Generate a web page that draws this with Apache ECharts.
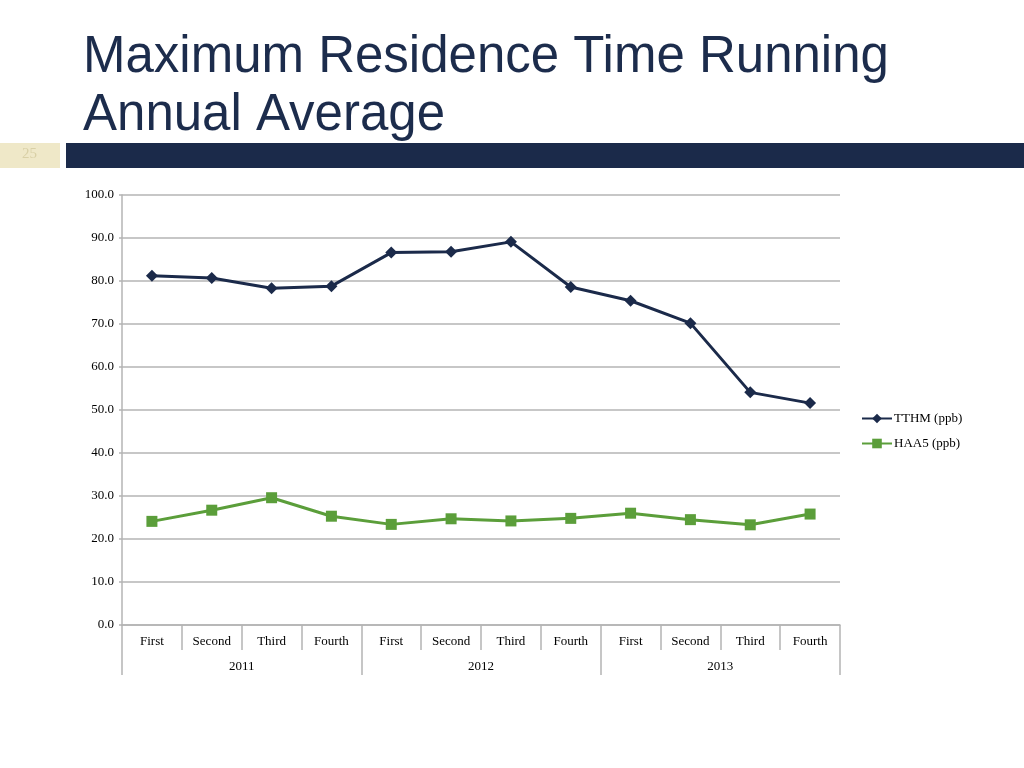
<!DOCTYPE html>
<html>
<head>
<meta charset="utf-8">
<title>Maximum Residence Time Running Annual Average</title>
<script src="https://cdn.jsdelivr.net/npm/echarts@6.0.0/dist/echarts.min.js"></script>
<style>
  html, body { margin: 0; padding: 0; background: #fff; }
  #main { width: 1024px; height: 768px; }
</style>
</head>
<body>
<div id="main"></div>
<script>
// chart data
var quarters = ['First', 'Second', 'Third', 'Fourth', 'First', 'Second', 'Third', 'Fourth', 'First', 'Second', 'Third', 'Fourth'];
var years = ['2011', '2012', '2013'];
var tthm = [81.2, 80.7, 78.3, 78.8, 86.6, 86.8, 89.1, 78.6, 75.4, 70.2, 54.1, 51.6];
var haa5 = [24.1, 26.7, 29.6, 25.3, 23.4, 24.7, 24.2, 24.8, 26.0, 24.5, 23.3, 25.8];
var seriesNames = ['TTHM (ppb)', 'HAA5 (ppb)'];

var serif = '"Liberation Serif", "Times New Roman", serif';
var navy = '#1b2a4a';
var green = '#5b9e3a';
var gridGray = '#b4b4b4';

var chart = echarts.init(document.getElementById('main'), null, { renderer: 'canvas' });

var option = {
  backgroundColor: '#fff',
  animation: false,
  title: {
    text: 'Maximum Residence Time Running\nAnnual Average',
    left: 78,
    top: 24,
    textStyle: {
      fontFamily: '"Liberation Sans", Arial, sans-serif',
      fontSize: 51,
      fontWeight: 'normal',
      color: '#1c2c4c',
      lineHeight: 58
    }
  },
  graphic: [
    { type: 'rect', left: 0, top: 143, shape: { width: 60, height: 25 }, style: { fill: '#efe8c8' } },
    { type: 'text', left: 22, top: 147, style: { text: '25', fill: '#d9d0a6', font: '15px ' + serif } },
    { type: 'rect', left: 66, top: 143, shape: { width: 958, height: 25 }, style: { fill: navy } }
  ],
  legend: {
    orient: 'vertical',
    left: 856,
    top: 407,
    itemWidth: 30,
    itemHeight: 12,
    itemGap: 12,
    data: seriesNames,
    textStyle: { fontFamily: serif, fontSize: 13, color: '#000', padding: [0, 0, 0, -3] }
  },
  grid: {
    left: 122,
    right: 184,
    top: 195,
    bottom: 143,
    containLabel: false
  },
  xAxis: [
    {
      type: 'category',
      data: quarters,
      boundaryGap: true,
      axisLine: { lineStyle: { color: gridGray, width: 1.5 } },
      axisTick: { show: true, interval: 0, length: 25, lineStyle: { color: gridGray, width: 1.5 } },
      axisLabel: { interval: 0, margin: 10, fontFamily: serif, fontSize: 13, color: '#000' },
      splitLine: { show: false }
    },
    {
      type: 'category',
      data: years,
      position: 'bottom',
      boundaryGap: true,
      axisLine: { show: false },
      axisTick: { show: true, interval: 0, length: 50, lineStyle: { color: gridGray, width: 1.5 } },
      axisLabel: { interval: 0, margin: 35, fontFamily: serif, fontSize: 13, color: '#000' },
      splitLine: { show: false }
    }
  ],
  yAxis: {
    type: 'value',
    min: 0,
    max: 100,
    interval: 10,
    axisLine: { show: true, lineStyle: { color: gridGray, width: 1.5 } },
    axisTick: { show: true, length: 3, lineStyle: { color: gridGray, width: 1.5 } },
    axisLabel: {
      margin: 8,
      fontFamily: serif,
      fontSize: 13,
      color: '#000',
      formatter: function (v) { return v.toFixed(1); }
    },
    splitLine: { lineStyle: { color: gridGray, width: 1.5 } }
  },
  series: [
    {
      name: seriesNames[0],
      type: 'line',
      xAxisIndex: 0,
      data: tthm,
      symbol: 'diamond',
      symbolSize: 12,
      color: navy,
      lineStyle: { width: 3, color: navy },
      itemStyle: { color: navy }
    },
    {
      name: seriesNames[1],
      type: 'line',
      xAxisIndex: 0,
      data: haa5,
      symbol: 'rect',
      symbolSize: 11,
      color: green,
      lineStyle: { width: 3, color: green },
      itemStyle: { color: green }
    }
  ]
};

chart.setOption(option);
</script>
</body>
</html>
